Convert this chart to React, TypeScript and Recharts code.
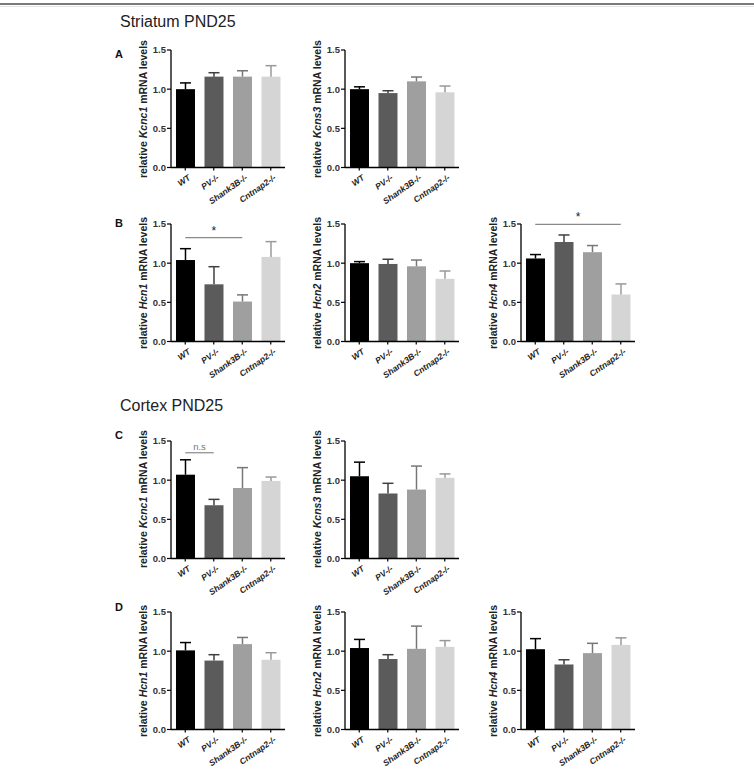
import React from "react";
import { BarChart, Bar, XAxis, YAxis, ReferenceLine } from "recharts";

const FONT = '"Liberation Sans", Arial, sans-serif';

const GROUPS = ["WT", "PV-/-", "Shank3B-/-", "Cntnap2-/-"];
const FILLS = ["#000000", "#5b5b5b", "#9f9f9f", "#d5d5d5"];
const WHISKERS = ["#000000", "#3f3f3f", "#777777", "#999999"];
const Y_TICKS = [0, 0.5, 1, 1.5];

// Striatum PND25 (mean, SEM)
const strKcnc1 = [1.0, 1.16, 1.16, 1.16];
const strKcnc1Sem = [0.08, 0.05, 0.075, 0.14];
const strKcns3 = [1.0, 0.95, 1.1, 0.96];
const strKcns3Sem = [0.03, 0.03, 0.055, 0.08];
const strHcn1 = [1.04, 0.73, 0.51, 1.08];
const strHcn1Sem = [0.145, 0.225, 0.085, 0.195];
const strHcn2 = [1.0, 0.99, 0.96, 0.8];
const strHcn2Sem = [0.02, 0.06, 0.08, 0.1];
const strHcn4 = [1.06, 1.27, 1.14, 0.6];
const strHcn4Sem = [0.05, 0.09, 0.085, 0.135];

// Cortex PND25 (mean, SEM)
const ctxKcnc1 = [1.07, 0.68, 0.9, 0.99];
const ctxKcnc1Sem = [0.19, 0.075, 0.26, 0.05];
const ctxKcns3 = [1.05, 0.83, 0.88, 1.03];
const ctxKcns3Sem = [0.18, 0.13, 0.3, 0.05];
const ctxHcn1 = [1.01, 0.88, 1.09, 0.89];
const ctxHcn1Sem = [0.1, 0.075, 0.085, 0.09];
const ctxHcn2 = [1.04, 0.9, 1.03, 1.055];
const ctxHcn2Sem = [0.11, 0.055, 0.29, 0.08];
const ctxHcn4 = [1.025, 0.83, 0.975, 1.08];
const ctxHcn4Sem = [0.135, 0.06, 0.125, 0.09];

const PLOT_W = 114;
const PLOT_H = 117.5;
const LEFT = 70;
const TOP = 22;
const YAXIS_W = 40;

type Sig = { from: string; to: string; y: number; text: string; color: string; size: number };

function BarWithError(props: any) {
  const { x, y, width, height, payload } = props;
  const i = payload.idx;
  const perUnit = payload.value ? height / payload.value : 0;
  const errTop = y - payload.sem * perUnit;
  const cx = x + width / 2;
  return (
    <g>
      <rect x={x} y={y} width={width} height={height} fill={FILLS[i]} />
      <line x1={cx} y1={y} x2={cx} y2={errTop} stroke={WHISKERS[i]} strokeWidth={1.5} />
      <line x1={cx - 5.5} y1={errTop} x2={cx + 5.5} y2={errTop} stroke={WHISKERS[i]} strokeWidth={1.5} />
    </g>
  );
}

function GroupTick(props: any) {
  const { x, y, payload } = props;
  return (
    <text
      transform={`translate(${x + 4},${y + 4}) rotate(-35)`}
      textAnchor="end"
      dominantBaseline="central"
      fontSize={8.5}
      fontStyle="italic"
      fontWeight="bold"
      fill="#222"
      fontFamily={FONT}
    >
      {payload.value}
    </text>
  );
}

function Panel({ gene, means, sems, axisX, plotTop, sig }: { gene: string; means: number[]; sems: number[]; axisX: number; plotTop: number; sig?: Sig }) {
  const data = GROUPS.map((g, i) => ({ group: g, value: means[i], sem: sems[i], idx: i }));
  return (
    <>
      <div style={{ position: "absolute", left: axisX - LEFT, top: plotTop - TOP }}>
        <BarChart
          width={LEFT + PLOT_W + 8}
          height={TOP + PLOT_H + 60}
          data={data}
          margin={{ top: TOP, right: 8, bottom: 5, left: LEFT - YAXIS_W }}
          barCategoryGap="17.5%"
        >
          <XAxis
            dataKey="group"
            height={55}
            interval={0}
            tick={<GroupTick />}
            tickSize={3}
            axisLine={{ stroke: "#000", strokeWidth: 1.3 }}
            tickLine={{ stroke: "#000", strokeWidth: 1.2 }}
          />
          <YAxis
            width={YAXIS_W}
            domain={[0, 1.5]}
            ticks={Y_TICKS}
            tickFormatter={(v: number) => v.toFixed(1)}
            tickSize={4}
            tickMargin={1}
            tick={{ fontSize: 9.5, fontWeight: "bold", fill: "#333", fontFamily: FONT }}
            axisLine={{ stroke: "#000", strokeWidth: 1.3 }}
            tickLine={{ stroke: "#000", strokeWidth: 1.2 }}
          />
          <Bar dataKey="value" shape={BarWithError} isAnimationActive={false} />
          {sig && (
            <ReferenceLine
              segment={[{ x: sig.from, y: sig.y }, { x: sig.to, y: sig.y }]}
              stroke="#8a8a8a"
              strokeWidth={1.2}
              ifOverflow="visible"
              label={{ value: sig.text, position: "top", offset: 3, fill: sig.color, fontSize: sig.size, fontFamily: FONT }}
            />
          )}
        </BarChart>
      </div>
      <div
        style={{
          position: "absolute",
          left: axisX - 28 - 90,
          top: plotTop + PLOT_H / 2 - 7,
          width: 180,
          height: 14,
          lineHeight: "14px",
          textAlign: "center",
          fontSize: 10.5,
          fontWeight: "bold",
          color: "#222",
          transform: "rotate(-90deg)",
          whiteSpace: "nowrap",
        }}
      >
        relative <i>{gene}</i> mRNA levels
      </div>
    </>
  );
}

const heading = (text: string, top: number) => (
  <div style={{ position: "absolute", left: 120, top, fontSize: 16, lineHeight: "18px", color: "#222" }}>{text}</div>
);

const letter = (text: string, top: number) => (
  <div style={{ position: "absolute", left: 115, top, fontSize: 11, fontWeight: "bold", lineHeight: "12px", color: "#111" }}>{text}</div>
);

export default function App() {
  return (
    <div style={{ position: "absolute", left: 0, top: 0, width: 754, height: 772, background: "#fff", fontFamily: FONT, overflow: "hidden" }}>
      <div style={{ position: "absolute", left: 0, top: 3, width: 754, height: 2, background: "#7a7a7a" }} />
      <div style={{ position: "absolute", left: 0, top: 6, width: 754, height: 1, background: "#e4e4e4" }} />

      {heading("Striatum PND25", 13)}
      {letter("A", 48)}
      <Panel gene="Kcnc1" means={strKcnc1} sems={strKcnc1Sem} axisX={171} plotTop={50} />
      <Panel gene="Kcns3" means={strKcns3} sems={strKcns3Sem} axisX={345} plotTop={50} />

      {letter("B", 217)}
      <Panel gene="Hcn1" means={strHcn1} sems={strHcn1Sem} axisX={171} plotTop={224}
        sig={{ from: "WT", to: "Shank3B-/-", y: 1.325, text: "*", color: "#222", size: 12 }} />
      <Panel gene="Hcn2" means={strHcn2} sems={strHcn2Sem} axisX={345} plotTop={224} />
      <Panel gene="Hcn4" means={strHcn4} sems={strHcn4Sem} axisX={521} plotTop={224}
        sig={{ from: "WT", to: "Cntnap2-/-", y: 1.495, text: "*", color: "#222", size: 12 }} />

      {heading("Cortex PND25", 397)}
      {letter("C", 429)}
      <Panel gene="Kcnc1" means={ctxKcnc1} sems={ctxKcnc1Sem} axisX={171} plotTop={440.5}
        sig={{ from: "WT", to: "PV-/-", y: 1.35, text: "n.s", color: "#777", size: 9.5 }} />
      <Panel gene="Kcns3" means={ctxKcns3} sems={ctxKcns3Sem} axisX={345} plotTop={440.5} />

      {letter("D", 601)}
      <Panel gene="Hcn1" means={ctxHcn1} sems={ctxHcn1Sem} axisX={171} plotTop={612} />
      <Panel gene="Hcn2" means={ctxHcn2} sems={ctxHcn2Sem} axisX={345} plotTop={612} />
      <Panel gene="Hcn4" means={ctxHcn4} sems={ctxHcn4Sem} axisX={521} plotTop={612} />
    </div>
  );
}
